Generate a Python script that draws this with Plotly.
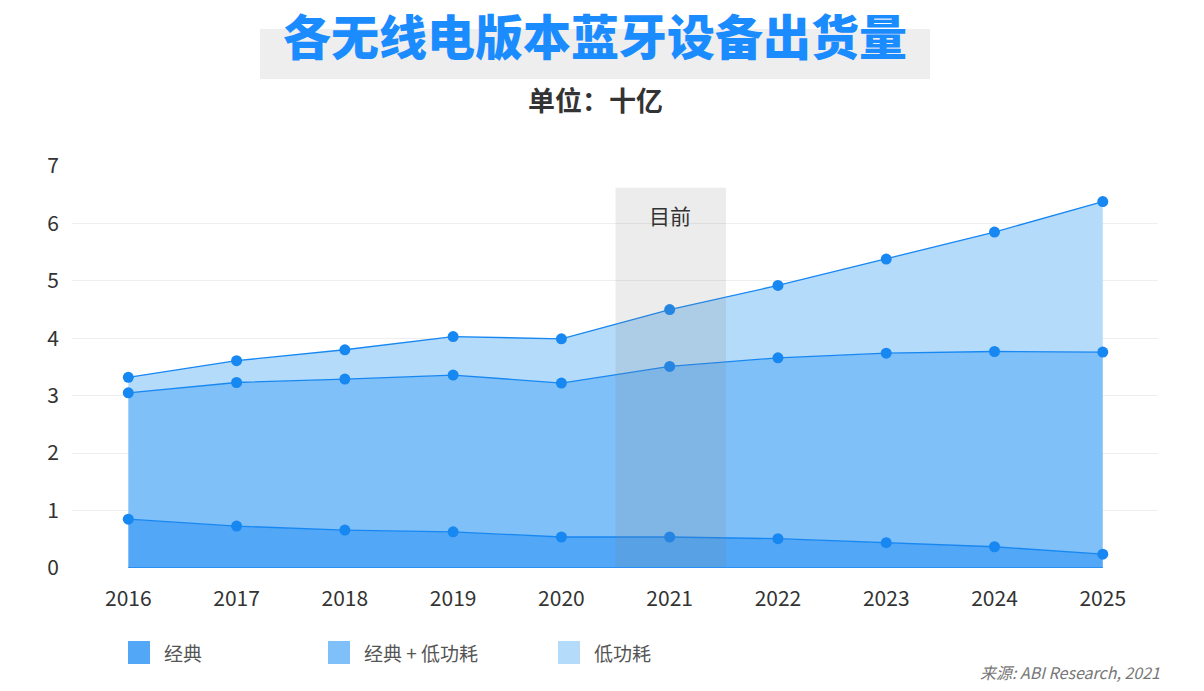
import plotly.graph_objects as go

years = [2016, 2017, 2018, 2019, 2020, 2021, 2022, 2023, 2024, 2025]
classic = [0.85, 0.73, 0.66, 0.63, 0.54, 0.54, 0.51, 0.44, 0.37, 0.24]
dual_mode = [2.20, 2.50, 2.63, 2.73, 2.68, 2.97, 3.15, 3.30, 3.40, 3.52]
low_energy = [0.27, 0.38, 0.51, 0.67, 0.77, 0.99, 1.26, 1.64, 2.08, 2.62]

series_names = ["经典", "经典 + 低功耗", "低功耗"]
fill_colors = ["#52a7f7", "#80c0f8", "#b5dbfa"]
LINE_COLOR = "#1787f2"
FONT = "Noto Sans CJK SC"

W, H = 1204, 691
# plot area in page pixels: x 72..1158, y 166..568
PX_L, PX_R, PX_T, PX_B = 72, 1158, 166, 568


def px(x):
    return (x - PX_L) / (PX_R - PX_L)


def py(y):
    return (PX_B - y) / (PX_B - PX_T)


fig = go.Figure()
for name, vals, color in zip(series_names, [classic, dual_mode, low_energy], fill_colors):
    fig.add_trace(go.Scatter(
        x=years, y=vals, name=name, stackgroup="one",
        mode="lines+markers",
        line=dict(color=LINE_COLOR, width=1.3),
        marker=dict(color=LINE_COLOR, size=11),
        fillcolor=color,
    ))

shapes = [
    # "current" band around 2021
    dict(type="rect", xref="x", yref="y", x0=2020.5, x1=2021.52, y0=0, y1=6.62,
         fillcolor="rgba(128,128,128,0.15)", line=dict(width=0), layer="above"),
    # base line under the areas
    dict(type="line", xref="x", yref="y", x0=years[0], x1=years[-1], y0=0, y1=0,
         line=dict(color="#2a90f5", width=2), layer="above"),
    # grey band behind the title
    dict(type="rect", xref="paper", yref="paper", x0=px(260), x1=px(930), y0=py(79), y1=py(29),
         fillcolor="#eeeeee", line=dict(width=0), layer="below"),
]

annotations = [
    dict(text="各无线电版本蓝牙设备出货量", xref="paper", yref="paper", x=px(595), y=py(34),
         showarrow=False, xanchor="center", yanchor="middle",
         font=dict(family=FONT, size=48, color="#1a8cff", weight=900)),
    dict(text="单位：十亿", xref="paper", yref="paper", x=px(595), y=py(100),
         showarrow=False, xanchor="center", yanchor="middle",
         font=dict(family=FONT, size=27, color="#333333", weight="bold")),
    dict(text="目前", xref="x", yref="y", x=2021, y=6.15, showarrow=False,
         font=dict(family=FONT, size=21, color="#333333")),
    dict(text="<i>来源: ABI Research, 2021</i>", xref="paper", yref="paper", x=px(1162), y=py(672),
         showarrow=False, xanchor="right", yanchor="middle",
         font=dict(family=FONT, size=16, color="#777777")),
]

# hand-made legend along the bottom
legend_x = [128, 328, 558]
for lx, name, color in zip(legend_x, series_names, fill_colors):
    shapes.append(dict(type="rect", xref="paper", yref="paper",
                       x0=px(lx), x1=px(lx + 22), y0=py(664), y1=py(641),
                       fillcolor=color, line=dict(width=0)))
    annotations.append(dict(text=name, xref="paper", yref="paper", x=px(lx + 34), y=py(652),
                            showarrow=False, xanchor="left", yanchor="middle",
                            font=dict(family=FONT, size=19, color="#555555")))

fig.update_layout(
    width=W, height=H,
    margin=dict(l=PX_L, r=W - PX_R, t=PX_T, b=H - PX_B),
    paper_bgcolor="white", plot_bgcolor="white",
    showlegend=False,
    font=dict(family=FONT, size=21, color="#333333"),
    shapes=shapes, annotations=annotations,
    xaxis=dict(range=[2015.48, 2025.51], tickvals=years, showgrid=False, zeroline=False,
               showline=False, ticks="", ticklabelstandoff=16, fixedrange=True),
    yaxis=dict(range=[0, 7], dtick=1, gridcolor="#eeeeee", gridwidth=1, zeroline=False,
               showline=False, ticks="", ticklabelstandoff=12, fixedrange=True),
)

# drop the default 8px page margin so the figure fills the window exactly
fig.write_html("out.html", config={"displayModeBar": False},
               post_script="document.body.style.margin='0px';")
